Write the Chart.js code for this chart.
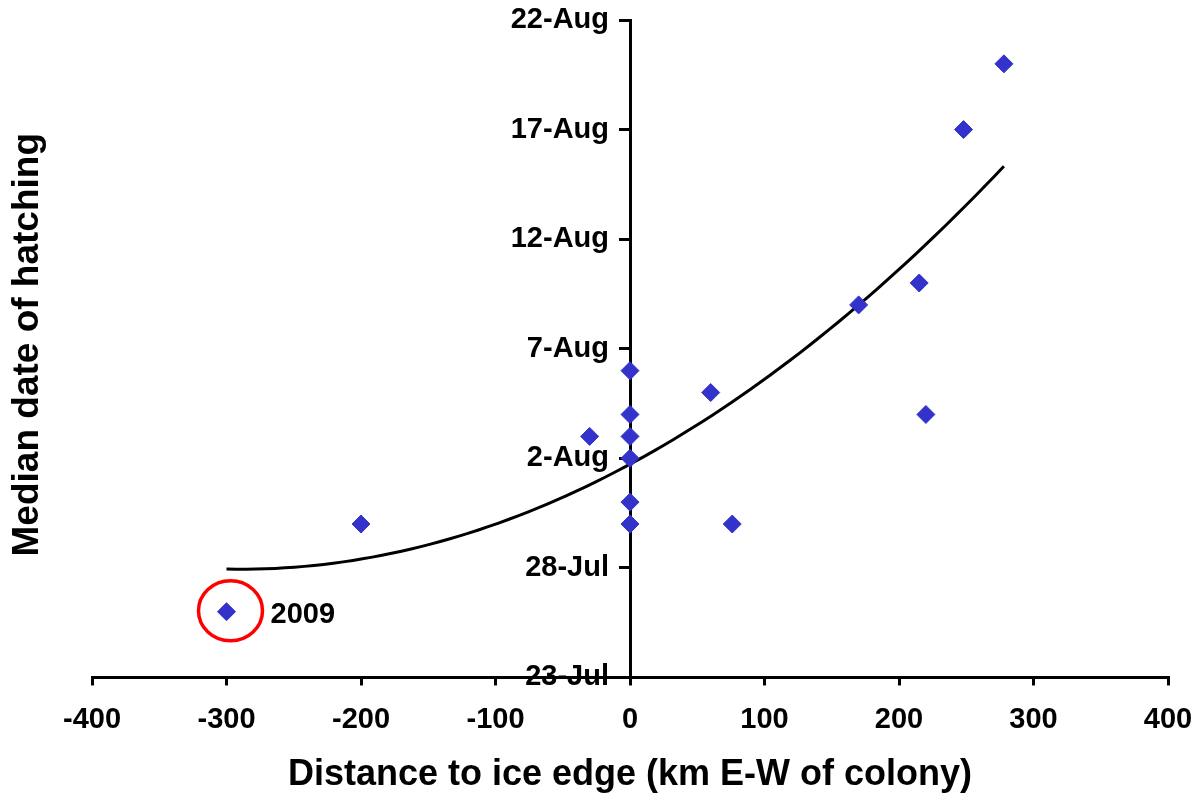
<!DOCTYPE html>
<html>
<head>
<meta charset="utf-8">
<script src="https://cdn.jsdelivr.net/npm/chart.js@4.4.1/dist/chart.umd.min.js"></script>
<style>
    html, body { margin: 0; padding: 0; background: #fff; }
    #wrap { width: 1204px; height: 795px; }
</style>
</head>
<body>
<div id="wrap"><canvas id="chart" width="1204" height="795"></canvas></div>
<script>
// distance to ice edge (km, E-W of colony) and median hatching date (days after 23-Jul)
const distanceKm = [-300, -200, -30, 0, 0, 0, 0, 0, 0, 60, 76, 170, 215, 220, 248, 278];
const hatchDay = [3, 7, 11, 14, 12, 11, 10, 8, 7, 13, 7, 17, 18, 12, 25, 28];
const dateLabels = ['23-Jul', '28-Jul', '2-Aug', '7-Aug', '12-Aug', '17-Aug', '22-Aug'];
const highlightPoint = [-300, 3];
const highlightLabel = '2009';

const FONT = '"Liberation Sans", Arial, sans-serif';
const BLUE = '#3333cc';

// 2nd order polynomial trendline, least squares on the points above
function quadFit(xs, ys) {
    const s = [0, 0, 0, 0, 0];
    const t = [0, 0, 0];
    xs.forEach((x, i) => {
        let p = 1;
        for (let k = 0; k < 5; k++) {
            s[k] += p;
            if (k < 3) t[k] += p * ys[i];
            p *= x;
        }
    });
    const m = [
        [s[0], s[1], s[2], t[0]],
        [s[1], s[2], s[3], t[1]],
        [s[2], s[3], s[4], t[2]],
    ];
    for (let i = 0; i < 3; i++) {
        for (let j = i + 1; j < 3; j++) {
            const f = m[j][i] / m[i][i];
            for (let k = i; k < 4; k++) m[j][k] -= f * m[i][k];
        }
    }
    const c = [0, 0, 0];
    for (let i = 2; i >= 0; i--) {
        let v = m[i][3];
        for (let k = i + 1; k < 3; k++) v -= m[i][k] * c[k];
        c[i] = v / m[i][i];
    }
    return c;
}

const coef = quadFit(distanceKm, hatchDay);
const xMin = Math.min(...distanceKm);
const xMax = Math.max(...distanceKm);
const trend = [];
for (let i = 0; i <= 80; i++) {
    const x = xMin + (xMax - xMin) * i / 80;
    trend.push({ x, y: coef[0] + coef[1] * x + coef[2] * x * x });
}

const annotations = {
    id: 'annotations',
    // y tick labels sit left of the centred axis; drawn first so the x axis line crosses "23-Jul"
    beforeDraw(chart) {
        const { ctx, scales } = chart;
        const ax = scales.x.getPixelForValue(0);
        ctx.save();
        ctx.fillStyle = '#000';
        ctx.font = 'bold 29px ' + FONT;
        ctx.textAlign = 'right';
        ctx.textBaseline = 'middle';
        scales.y.ticks.forEach((t, i) => {
            ctx.fillText(dateLabels[i], ax - 21, scales.y.getPixelForValue(t.value));
        });
        ctx.restore();
    },
    afterDatasetsDraw(chart) {
        const { ctx, chartArea, scales } = chart;
        const px = scales.x.getPixelForValue(highlightPoint[0]);
        const py = scales.y.getPixelForValue(highlightPoint[1]);
        ctx.save();
        ctx.strokeStyle = '#ff0000';
        ctx.lineWidth = 3.5;
        ctx.beginPath();
        ctx.ellipse(px + 4, py - 1, 32, 30, 0, 0, Math.PI * 2);
        ctx.stroke();

        ctx.fillStyle = '#000';
        ctx.font = 'bold 29px ' + FONT;
        ctx.textBaseline = 'middle';
        ctx.textAlign = 'left';
        ctx.fillText(highlightLabel, px + 44, py + 3);

        ctx.translate(28, (chartArea.top + chartArea.bottom) / 2 - 4);
        ctx.rotate(-Math.PI / 2);
        ctx.textAlign = 'center';
        ctx.font = 'bold 37px ' + FONT;
        ctx.fillText('Median date of hatching', 0, 0);
        ctx.restore();
    },
};

new Chart(document.getElementById('chart'), {
    type: 'scatter',
    data: {
        datasets: [
            {
                label: 'Hatching',
                data: distanceKm.map((x, i) => ({ x, y: hatchDay[i] })),
                pointStyle: 'rectRot',
                pointRadius: 9,
                pointBackgroundColor: BLUE,
                pointBorderColor: BLUE,
                pointBorderWidth: 1,
            },
            {
                label: 'Trend',
                data: trend,
                showLine: true,
                borderColor: '#000',
                borderWidth: 3,
                pointRadius: 0,
                tension: 0,
            },
        ],
    },
    plugins: [annotations],
    options: {
        responsive: false,
        animation: false,
        layout: { padding: { left: 92, right: 36, top: 20, bottom: 0 } },
        plugins: {
            legend: { display: false },
            tooltip: { enabled: false },
        },
        scales: {
            x: {
                type: 'linear',
                position: 'bottom',
                min: -400,
                max: 400,
                ticks: {
                    stepSize: 100,
                    color: '#000',
                    padding: 8,
                    font: { family: FONT, size: 29, weight: 'bold', lineHeight: 1.86 },
                },
                grid: { drawOnChartArea: false, drawTicks: true, tickLength: 8, color: '#000', lineWidth: 3 },
                border: { display: true, color: '#000', width: 3 },
                title: {
                    display: true,
                    text: 'Distance to ice edge (km E-W of colony)',
                    color: '#000',
                    padding: { top: 0, bottom: 0 },
                    font: { family: FONT, size: 36, weight: 'bold', lineHeight: 1.1 },
                },
            },
            y: {
                type: 'linear',
                position: { x: 0 },
                min: 0,
                max: 30,
                ticks: {
                    stepSize: 5,
                    padding: 0,
                    display: false,
                    font: { family: FONT, size: 29, weight: 'bold' },
                },
                grid: { drawOnChartArea: false, drawTicks: true, tickLength: 10, color: '#000', lineWidth: 3 },
                border: { display: true, color: '#000', width: 3 },
            },
        },
    },
});
</script>
</body>
</html>
